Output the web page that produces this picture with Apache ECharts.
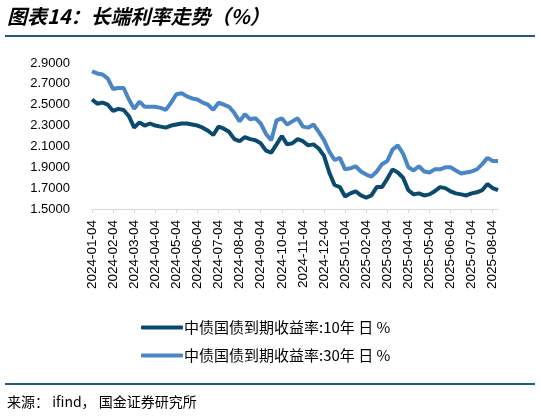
<!DOCTYPE html>
<html>
<head>
<meta charset="utf-8">
<script src="https://cdn.jsdelivr.net/npm/echarts@6/dist/echarts.min.js"></script>
<style>
  html, body { margin: 0; padding: 0; background: #fff; }
  #main { width: 541px; height: 416px; }
</style>
</head>
<body>
<div id="main"></div>
<script>
var myChart = echarts.init(document.getElementById('main'));

// weekly sample dates: 4th, 11th, 18th, 25th of each month
var months = [];
for (var y = 2024; y <= 2025; y++) {
    for (var m = 1; m <= 12; m++) {
        if (y === 2025 && m > 7) break;
        months.push(y + '-' + (m < 10 ? '0' + m : m));
    }
}
var dates = [];
months.forEach(function (mo) {
    ['04', '11', '18', '25'].forEach(function (d) { dates.push(mo + '-' + d); });
});
dates.push('2025-08-04', '2025-08-11');

var yield10 = [
    2.55, 2.51, 2.52, 2.50, 2.44, 2.46, 2.45, 2.39,
    2.28, 2.33, 2.30, 2.32, 2.30, 2.29, 2.28, 2.30,
    2.31, 2.32, 2.32, 2.31, 2.30, 2.28, 2.25, 2.21,
    2.29, 2.27, 2.24, 2.17, 2.15, 2.19, 2.17, 2.16,
    2.13, 2.06, 2.04, 2.12, 2.20, 2.12, 2.13, 2.17,
    2.15, 2.11, 2.12, 2.08, 2.01, 1.85, 1.73, 1.71,
    1.62, 1.65, 1.67, 1.63, 1.61, 1.63, 1.71, 1.71,
    1.79, 1.88, 1.85, 1.80, 1.68, 1.64, 1.65, 1.63,
    1.64, 1.67, 1.71, 1.70, 1.67, 1.65, 1.64, 1.63,
    1.65, 1.66, 1.68, 1.74, 1.70, 1.68
];
var yield30 = [
    2.82, 2.80, 2.79, 2.75, 2.65, 2.66, 2.66, 2.55,
    2.46, 2.53, 2.48, 2.48, 2.48, 2.47, 2.45, 2.52,
    2.60, 2.61, 2.58, 2.56, 2.55, 2.52, 2.50, 2.45,
    2.52, 2.50, 2.48, 2.42, 2.34, 2.41, 2.36, 2.37,
    2.32, 2.22, 2.16, 2.35, 2.37, 2.31, 2.34, 2.37,
    2.29, 2.28, 2.31, 2.24, 2.16, 2.05, 1.97, 1.99,
    1.88, 1.89, 1.91, 1.86, 1.83, 1.81, 1.86, 1.93,
    1.96, 2.07, 2.11, 2.03, 1.90, 1.87, 1.91, 1.86,
    1.85, 1.88, 1.88, 1.90, 1.90, 1.87, 1.84, 1.85,
    1.86, 1.88, 1.93, 1.99, 1.96, 1.96
];

var seriesNames = ['中债国债到期收益率:10年 日 %', '中债国债到期收益率:30年 日 %'];
var lineColors = ['#0B4A6F', '#4A86C6'];

var isTick = function (idx, val) { return val.slice(8) === '04'; };

option = {
    backgroundColor: '#fff',
    animation: false,
    textStyle: { fontFamily: 'Liberation Sans, Arial, sans-serif' },
    graphic: [
        {
            type: 'text', left: 7, top: 6,
            style: {
                text: '图表14：长端利率走势（%）',
                font: 'italic bold 20px "Noto Sans CJK SC"',
                fill: '#000'
            }
        },
        { type: 'line', shape: { x1: 5, y1: 36, x2: 535, y2: 36 }, style: { stroke: '#1F5A80', lineWidth: 2 } },
        { type: 'line', shape: { x1: 5, y1: 384, x2: 535, y2: 384 }, style: { stroke: '#1F5A80', lineWidth: 2 } },
        {
            type: 'text', left: 7, top: 395,
            style: {
                text: '来源： ifind， 国金证券研究所',
                font: '14px "Noto Sans CJK SC"',
                fill: '#000'
            }
        }
    ],
    grid: { left: 92, right: 43, top: 63, bottom: 207, containLabel: false },
    legend: {
        orient: 'vertical',
        left: 136, top: 315,
        itemWidth: 42, itemHeight: 4, itemGap: 13,
        icon: 'roundRect',
        textStyle: { fontSize: 15, color: '#000', fontFamily: 'Noto Sans CJK SC', padding: [0, 0, 0, -4] },
        data: seriesNames
    },
    xAxis: {
        type: 'category',
        data: dates,
        boundaryGap: false,
        axisLine: { lineStyle: { color: '#D9D9D9', width: 1 } },
        axisTick: { interval: isTick, length: 4, lineStyle: { color: '#D9D9D9' } },
        axisLabel: { interval: isTick, rotate: 90, fontSize: 13.5, color: '#000', margin: 11 }
    },
    yAxis: {
        type: 'value',
        min: 1.5, max: 2.9, interval: 0.2,
        splitLine: { show: false },
        axisLine: { show: false },
        axisTick: { show: false },
        axisLabel: {
            fontSize: 13, color: '#000', margin: 22,
            formatter: function (v) { return v.toFixed(4); }
        }
    },
    series: [
        {
            name: seriesNames[0], type: 'line', data: yield10,
            symbol: 'none', z: 3,
            lineStyle: { color: lineColors[0], width: 4 },
            itemStyle: { color: lineColors[0] }
        },
        {
            name: seriesNames[1], type: 'line', data: yield30,
            symbol: 'none', z: 2,
            lineStyle: { color: lineColors[1], width: 4 },
            itemStyle: { color: lineColors[1] }
        }
    ]
};

myChart.setOption(option);
</script>
</body>
</html>
